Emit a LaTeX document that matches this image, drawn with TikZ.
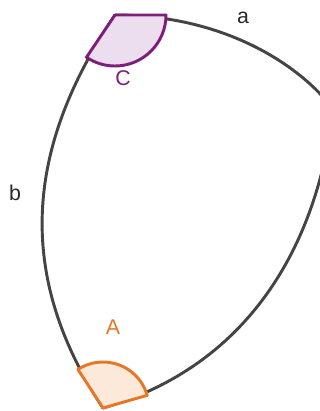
\documentclass[tikz,border=0pt]{standalone}
\usepackage{fontspec}
\setmainfont{Liberation Sans}
\usetikzlibrary{positioning}
\definecolor{sidegray}{RGB}{68, 68, 68}
\definecolor{textgray}{RGB}{40, 40, 40}
\definecolor{angleorange}{RGB}{230, 118, 40}
\definecolor{fillorange}{RGB}{253, 233, 218}
\definecolor{anglepurple}{RGB}{125, 30, 125}
\definecolor{fillpurple}{RGB}{236, 222, 239}

\begin{document}
\begin{tikzpicture}[x=0.75pt, y=0.75pt,
    side/.style={draw=sidegray, line width=2.2pt},
    sector/.style={line width=2.2pt, line join=round},
    lbl/.style={font=\fontsize{16}{19}\selectfont}]
    \useasboundingbox (0,0) rectangle (320,411);
    \clip (0,0) rectangle (320,411);

    % Vertices
    \coordinate (A) at (103,3);
    \coordinate (B) at (333,302);
    \coordinate (C) at (115,396);

    % Sides
    \draw[side] (C) .. controls (225,396) and (301,345) .. (B);
    \draw[side] (B) .. controls (324,215) and (281,55) .. (A);
    \draw[side] (C) .. controls (22,258) and (18,132) .. (A);

    % Angles
    \filldraw[sector, fill=fillorange, draw=angleorange] (A) -- ++(16:46) arc[start angle=16, end angle=123, radius=46] -- cycle;
    \filldraw[sector, fill=fillpurple, draw=anglepurple] (C) -- ++(0:51) arc[start angle=0, end angle=-124, radius=51] -- cycle;

    % Labels
    \node[lbl, text=angleorange] (labA) at (113,84) {A};
    \node[lbl, text=anglepurple] (labC) at (123,333) {C};
    \node[lbl, text=textgray] (laba) at (243,393) {a};
    \node[lbl, text=textgray] (labb) at (15,218) {b};
\end{tikzpicture}
\end{document}
